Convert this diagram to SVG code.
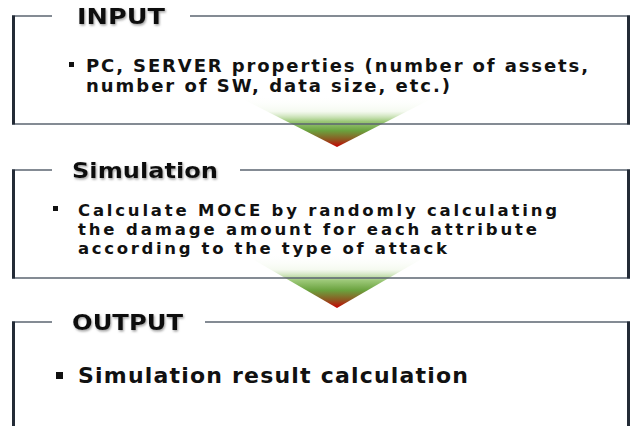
<svg xmlns="http://www.w3.org/2000/svg" width="634" height="426" viewBox="0 0 634 426">
<defs>
<linearGradient id="tri" x1="0" y1="0" x2="0" y2="1">
<stop offset="0" stop-color="#ffffff" stop-opacity="0"/>
<stop offset="0.3" stop-color="#eef6e6" stop-opacity="0.6"/>
<stop offset="0.5" stop-color="#9cc878"/>
<stop offset="0.68" stop-color="#6aa23e"/>
<stop offset="0.85" stop-color="#8c5a22"/>
<stop offset="1" stop-color="#c80000"/>
</linearGradient>
<filter id="shadow" x="-10%" y="-30%" width="120%" height="160%">
<feDropShadow dx="1" dy="1.5" stdDeviation="1.2" flood-color="#777777" flood-opacity="0.7"/>
</filter>
</defs>
<style>
.top{stroke:#5b6470;stroke-width:1.6;fill:none}
.side{stroke:#232b36;stroke-width:3;fill:none}
.bot{stroke:#5b6470;stroke-width:1.6;fill:none}
.title{font-family:"DejaVu Sans","Noto Sans",sans-serif;font-weight:bold;font-size:21px;fill:#111111}
.b1{font-family:"DejaVu Sans","Noto Sans",sans-serif;font-weight:bold;font-size:18px;fill:#111111}
.b2{font-family:"DejaVu Sans","Noto Sans",sans-serif;font-weight:bold;font-size:16.5px;fill:#111111}
.big{font-family:"DejaVu Sans","Noto Sans",sans-serif;font-weight:bold;font-size:22px;fill:#111111}
.bul{fill:#111111}
</style>
<rect width="634" height="426" fill="#ffffff"/>
<g id="connectors">
<polygon points="237,96 437,96 337,147" fill="url(#tri)"/>
<polygon points="242,253 432,253 337,308" fill="url(#tri)"/>
</g>
<g id="box-input">
<line class="top" x1="12" y1="16" x2="52" y2="16"/>
<line class="top" x1="190" y1="16" x2="630" y2="16"/>
<line class="bot" x1="12" y1="124" x2="630" y2="124"/>
<line class="side" x1="13.5" y1="15.5" x2="13.5" y2="124.5"/>
<line class="side" x1="628.5" y1="15.5" x2="628.5" y2="124.5"/>
<text class="title" x="77" y="24" textLength="88" lengthAdjust="spacingAndGlyphs" filter="url(#shadow)">INPUT</text>
<rect class="bul" x="69" y="62" width="5" height="5"/>
<text class="b1" x="86" y="72" textLength="502" lengthAdjust="spacing">PC, SERVER properties (number of assets,</text>
<text class="b1" x="86" y="92" textLength="364" lengthAdjust="spacing">number of SW, data size, etc.)</text>
</g>
<g id="box-simulation">
<line class="top" x1="12" y1="170" x2="52" y2="170"/>
<line class="top" x1="240" y1="170" x2="630" y2="170"/>
<line class="bot" x1="12" y1="278" x2="630" y2="278"/>
<line class="side" x1="13.5" y1="169.5" x2="13.5" y2="278.5"/>
<line class="side" x1="628.5" y1="169.5" x2="628.5" y2="278.5"/>
<text class="title" x="72" y="178" textLength="146" lengthAdjust="spacingAndGlyphs" filter="url(#shadow)">Simulation</text>
<rect class="bul" x="53" y="206" width="5" height="5"/>
<text class="b2" x="78" y="216" textLength="479" lengthAdjust="spacing">Calculate MOCE by randomly calculating</text>
<text class="b2" x="78" y="235" textLength="459" lengthAdjust="spacing">the damage amount for each attribute</text>
<text class="b2" x="78" y="254" textLength="369" lengthAdjust="spacing">according to the type of attack</text>
</g>
<g id="box-output">
<line class="top" x1="12" y1="322" x2="52" y2="322"/>
<line class="top" x1="205" y1="322" x2="630" y2="322"/>
<line class="side" x1="13.5" y1="321.5" x2="13.5" y2="426"/>
<line class="side" x1="628.5" y1="321.5" x2="628.5" y2="426"/>
<text class="title" x="72" y="330" textLength="111" lengthAdjust="spacingAndGlyphs" filter="url(#shadow)">OUTPUT</text>
<rect class="bul" x="56" y="372" width="7" height="7"/>
<text class="big" x="78" y="383" textLength="390" lengthAdjust="spacing">Simulation result calculation</text>
</g>
</svg>
